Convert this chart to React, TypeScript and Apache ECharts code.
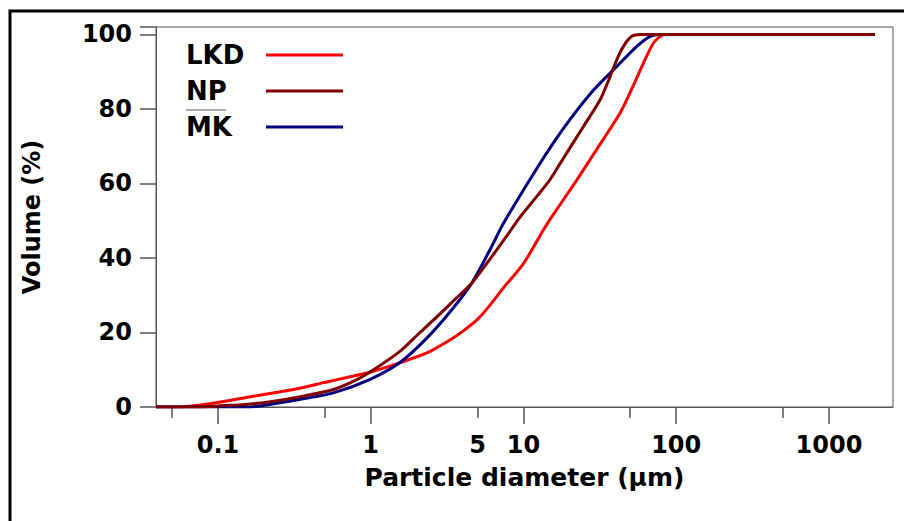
import React, { useEffect, useRef } from 'react';
import * as echarts from 'echarts';

// Particle size distributions (diameter in µm, cumulative volume in %)
const SERIES_NAMES = ['LKD', 'NP', 'MK'];
const SERIES_COLORS = ['#ff0000', '#800000', '#000080'];

const LKD_D = [0.0393, 0.06, 0.075, 0.1, 0.16, 0.25, 0.35, 0.5, 0.73, 1, 1.56, 2.33, 3.3, 4, 5, 6, 7.4, 10, 13.5, 15, 22, 30, 43, 52, 61, 71, 82, 90, 2000];
const LKD_V = [0, 0.1, 0.5, 1.2, 2.7, 4.0, 5.1, 6.6, 8.1, 9.4, 11.9, 14.5, 18.0, 20.3, 23.5, 27.2, 32, 38.5, 47.5, 50.5, 60.5, 69, 79, 86, 92.3, 97.7, 99.9, 100, 100];

const NP_D = [0.0393, 0.08, 0.1, 0.15, 0.21, 0.34, 0.57, 0.8, 1, 1.56, 2.1, 2.57, 3.48, 4.58, 7.8, 9.5, 12.5, 14.9, 17.4, 24.7, 31.7, 36.9, 40.8, 45.1, 51.1, 58, 2000];
const NP_V = [0, 0, 0.3, 0.7, 1.3, 2.7, 4.7, 7.2, 9.5, 15, 20, 23.3, 28.5, 33.2, 46, 51, 57, 61, 65.4, 75.3, 82.4, 88.7, 93.2, 96.8, 99.5, 100, 100];

const MK_D = [0.0393, 0.15, 0.19, 0.34, 0.57, 1, 1.56, 2.33, 3.3, 4.58, 6, 7.4, 11, 14.9, 20.2, 28.7, 40.8, 55.2, 67.5, 78.5, 2000];
const MK_V = [0, 0, 0.3, 2.0, 3.8, 7.5, 12, 18.5, 25.5, 33.2, 42, 49.3, 61, 69.5, 77.2, 85, 91.4, 96.8, 99.5, 100, 100];

const X_MIN = 0.0393;
const X_MAX = 2625;
const X_MAJOR_TICKS = [0.1, 1, 10, 100, 1000];
const X_MINOR_TICKS = [0.05, 0.5, 5, 50, 500];
const X_LABELS = [0.1, 1, 5, 10, 100, 1000];
const Y_MIN = 0;
const Y_MAX = 102;
const Y_STEP = 20;

const FONT = 'DejaVu Sans';

export default function App() {
  const ref = useRef<HTMLDivElement>(null);

  useEffect(() => {
    if (!ref.current) return;
    const chart = echarts.init(ref.current, undefined, { renderer: 'svg' });
    const lg = (v: number) => Math.log10(v);
    const fmt = (v: number) => String(+Math.pow(10, v).toPrecision(3));
    const mk = (d: number[], v: number[]) => d.map((x, i) => [lg(x), v[i]]);
    const dataSets = [mk(LKD_D, LKD_V), mk(NP_D, NP_V), mk(MK_D, MK_V)];
    const zOrder = [1, 3, 2];

    const axisGray = '#555555';

    chart.setOption({
      animation: false,
      backgroundColor: '#ffffff',
      grid: {
        left: 156,
        top: 27,
        right: 11,
        bottom: 114,
        show: true,
        borderColor: axisGray,
        borderWidth: 1,
        backgroundColor: 'transparent',
      },
      legend: {
        data: SERIES_NAMES,
        orient: 'vertical',
        left: 186,
        top: 42,
        padding: 0,
        align: 'right',
        icon: 'rect',
        itemWidth: 77,
        itemHeight: 3,
        itemGap: 10,
        formatter: (name: string) => '{t|' + name + '}',
        textStyle: {
          fontFamily: FONT,
          fontWeight: 'bold',
          fontSize: 26,
          color: '#000',
          rich: {
            t: {
              width: 75,
              align: 'left',
              fontFamily: FONT,
              fontWeight: 'bold',
              fontSize: 26,
              lineHeight: 27,
              color: '#000',
            },
          },
        },
      },
      xAxis: [
        {
          type: 'value',
          min: lg(X_MIN),
          max: lg(X_MAX),
          name: 'Particle diameter (µm)',
          nameLocation: 'middle',
          nameGap: 58,
          nameTextStyle: { fontFamily: FONT, fontWeight: 'bold', fontSize: 25, color: '#000', verticalAlign: 'top' },
          axisLine: { show: true, onZero: false, lineStyle: { color: axisGray, width: 1 } },
          axisTick: { show: true, length: 17, customValues: X_MAJOR_TICKS.map(lg), lineStyle: { color: axisGray, width: 1.5 } },
          axisLabel: {
            customValues: X_LABELS.map(lg),
            formatter: (v: number) => fmt(v),
            margin: 26,
            fontFamily: FONT,
            fontWeight: 'bold',
            fontSize: 24,
            color: '#000',
          },
          splitLine: { show: false },
        },
        {
          type: 'value',
          position: 'bottom',
          min: lg(X_MIN),
          max: lg(X_MAX),
          axisLine: { show: false, onZero: false },
          axisTick: { show: true, length: 11, customValues: X_MINOR_TICKS.map(lg), lineStyle: { color: axisGray, width: 1.5 } },
          axisLabel: { show: false },
          splitLine: { show: false },
        },
      ],
      yAxis: {
        type: 'value',
        min: Y_MIN,
        max: Y_MAX,
        interval: Y_STEP,
        name: 'Volume (%)',
        nameLocation: 'middle',
        nameRotate: 90,
        nameGap: 112,
        nameTextStyle: { fontFamily: FONT, fontWeight: 'bold', fontSize: 24, color: '#000' },
        axisLine: { show: true, onZero: false, lineStyle: { color: axisGray, width: 1 } },
        axisTick: { show: true, length: 16, lineStyle: { color: axisGray, width: 1.5 } },
        axisLabel: {
          margin: 24,
          fontFamily: FONT,
          fontWeight: 'bold',
          fontSize: 24,
          color: '#000',
          formatter: (v: number) => (v % Y_STEP === 0 ? String(v) : ''),
        },
        splitLine: { show: false },
      },
      series: SERIES_NAMES.map((name, i) => ({
        name,
        type: 'line',
        xAxisIndex: 0,
        data: dataSets[i],
        showSymbol: false,
        symbol: 'none',
        smooth: 0.25,
        z: zOrder[i],
        lineStyle: { color: SERIES_COLORS[i], width: 3 },
        itemStyle: { color: SERIES_COLORS[i] },
      })),
      graphic: [
        {
          type: 'rect',
          shape: { x: 10, y: 11, width: 1200, height: 1200 },
          style: { fill: 'none', stroke: '#000', lineWidth: 3 },
          silent: true,
        },
        {
          type: 'line',
          shape: { x1: 186, y1: 110, x2: 226, y2: 110 },
          style: { stroke: '#555', lineWidth: 1 },
          silent: true,
        },
      ],
    });
    return () => chart.dispose();
  }, []);

  return (
    <div
      ref={ref}
      style={{ position: 'absolute', left: 0, top: 0, width: 904, height: 521, background: '#fff' }}
    />
  );
}
